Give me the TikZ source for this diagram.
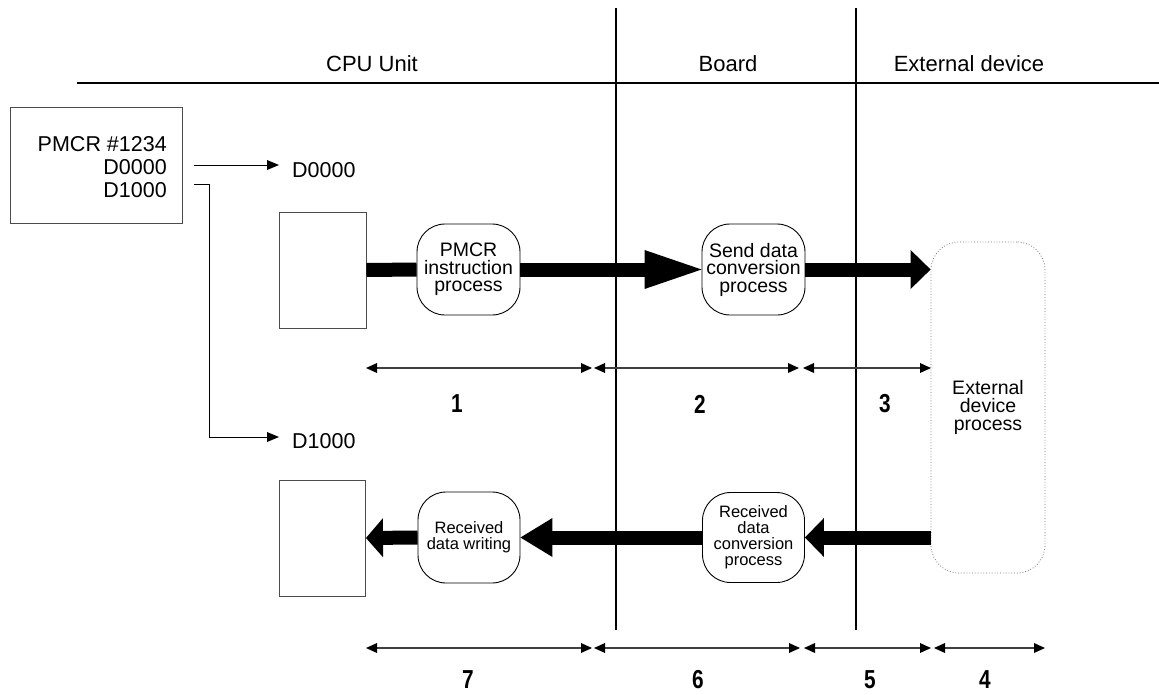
\documentclass[tikz,border=0pt]{standalone}
\usepackage{fontspec}
\setmainfont{Liberation Sans}
\usetikzlibrary{arrows.meta}
\begin{document}
\begin{tikzpicture}[x=1pt,y=-1pt,
  procnode/.style={draw, line width=0.9pt, rounded corners=28pt, align=center, inner sep=0pt, fill=white},
  topfont/.style={font=\fontsize{19.5}{17.5}\selectfont},
  botfont/.style={font=\fontsize{16.5}{16}\selectfont},
  memrect/.style={draw=black!70, line width=0.9pt, inner sep=0pt},
  extnode/.style={draw=black!55, dotted, line width=0.8pt, rounded corners=28pt, align=center, inner sep=0pt, font=\fontsize{19.5}{18}\selectfont},
  bigbar/.style={line width=14pt},
  bighead/.style={-{Triangle[length=#1,width=39pt,line width=0pt]}},
  dimarrow/.style={line width=1.3pt, draw=black!75, {Triangle[length=11pt,width=10pt,line width=0pt,color=black]}-{Triangle[length=11pt,width=10pt,line width=0pt,color=black]}},
  thinarr/.style={line width=1pt, -{Triangle[length=12pt,width=10pt,line width=0pt]}},
  sepline/.style={line width=1.8pt},
  hdr/.style={font=\fontsize{22}{23}\selectfont, inner sep=0pt},
  lbl/.style={font=\fontsize{21.5}{23}\selectfont, inner sep=0pt, anchor=west},
  numlbl/.style={font=\bfseries\fontsize{26}{26}\selectfont, inner sep=0pt, xscale=0.8}
]
\fill[white] (0,0) rectangle (1159,694);
\useasboundingbox (0,0) rectangle (1159,694);

% header and separators
\coordinate (hl) at (77,83);
\coordinate (hr) at (1159,83);
\draw[sepline] (hl) -- (hr);
\coordinate (v1t) at (616,8);
\coordinate (v1b) at (616,630);
\coordinate (v2t) at (856,8);
\coordinate (v2b) at (856,630);
\draw[sepline] (v1t) -- (v1b);
\draw[sepline] (v2t) -- (v2b);
\node[hdr] (hcpu) at (372,64) {CPU Unit};
\node[hdr] (hboard) at (728,64) {Board};
\node[hdr] (hext) at (969,64) {External device};

% instruction box
\node[memrect, minimum width=172pt, minimum height=116pt] (pmbox) at (96,165) {};
\node[align=right, anchor=east, inner sep=0pt, font=\fontsize{21.5}{23}\selectfont] (pmtxt) at (167,167) {PMCR \#1234\\D0000\\D1000};

% memory rects
\node[memrect, minimum width=87pt, minimum height=116pt] (r1) at (322.5,270) {};
\node[memrect, minimum width=86pt, minimum height=116pt] (r2) at (322.5,538) {};

% labels D0000 / D1000
\node[lbl] (d0) at (292,170) {D0000};
\node[lbl] (d1) at (292,441) {D1000};
\coordinate (s0) at (194,165);
\coordinate (t0) at (279,165);
\draw[thinarr] (s0) -- (t0);
\coordinate (s1) at (194,184);
\coordinate (k1) at (209,184);
\coordinate (t1) at (279,437);
\draw[thinarr] (s1) -- (k1) |- (t1);

% process nodes
\node[procnode, topfont, minimum width=103pt, minimum height=91pt] (pmcr) at (468.5,269.5) {PMCR\\instruction\\process};
\node[procnode, topfont, minimum width=103pt, minimum height=91pt] (send) at (753.5,269.5) {Send data\\conversion\\process};
\node[procnode, botfont, minimum width=102pt, minimum height=91pt] (write) at (469,537.5) {Received\\data writing};
\node[procnode, botfont, minimum width=102pt, minimum height=90pt] (conv) at (753.5,537.5) {Received\\data\\conversion\\process};
\node[extnode, minimum width=114pt, minimum height=331pt] (ext) at (988,407.5) {External\\device\\process};

% thick flow arrows
\draw[bigbar] (r1.east) -- (pmcr.west);
\draw[bigbar, bighead=57pt] (pmcr.east) -- (send.west);
\draw[bigbar, bighead=20pt] (send.east) -- (send.east -| ext.west);
\draw[bigbar, bighead=19pt] (conv.east -| ext.west) -- (conv.east);
\draw[bigbar, bighead=32pt] (conv.west) -- (write.east);
\draw[bigbar, bighead=17pt] (write.west) -- (r2.east);

% dimension arrows row 1
\coordinate (a0) at (366,368);
\coordinate (a1) at (592,368);
\coordinate (a2) at (594,368);
\coordinate (a3) at (799,368);
\coordinate (a4) at (803,368);
\coordinate (a5) at (931,368);
\draw[dimarrow] (a0) -- (a1);
\draw[dimarrow] (a2) -- (a3);
\draw[dimarrow] (a4) -- (a5);
\node[numlbl] (n1) at (457,404) {1};
\node[numlbl] (n2) at (700,404) {2};
\node[numlbl] (n3) at (885,404) {3};

% dimension arrows row 2
\coordinate (b0) at (366,648);
\coordinate (b1) at (592,648);
\coordinate (b2) at (594,648);
\coordinate (b3) at (800,648);
\coordinate (b4) at (804,648);
\coordinate (b5) at (931,648);
\coordinate (b6) at (934,648);
\coordinate (b7) at (1045,648);
\draw[dimarrow] (b0) -- (b1);
\draw[dimarrow] (b2) -- (b3);
\draw[dimarrow] (b4) -- (b5);
\draw[dimarrow] (b6) -- (b7);
\node[numlbl] (n7) at (468,680) {7};
\node[numlbl] (n6) at (698,680) {6};
\node[numlbl] (n5) at (870,680) {5};
\node[numlbl] (n4) at (985,680) {4};
\end{tikzpicture}
\end{document}
